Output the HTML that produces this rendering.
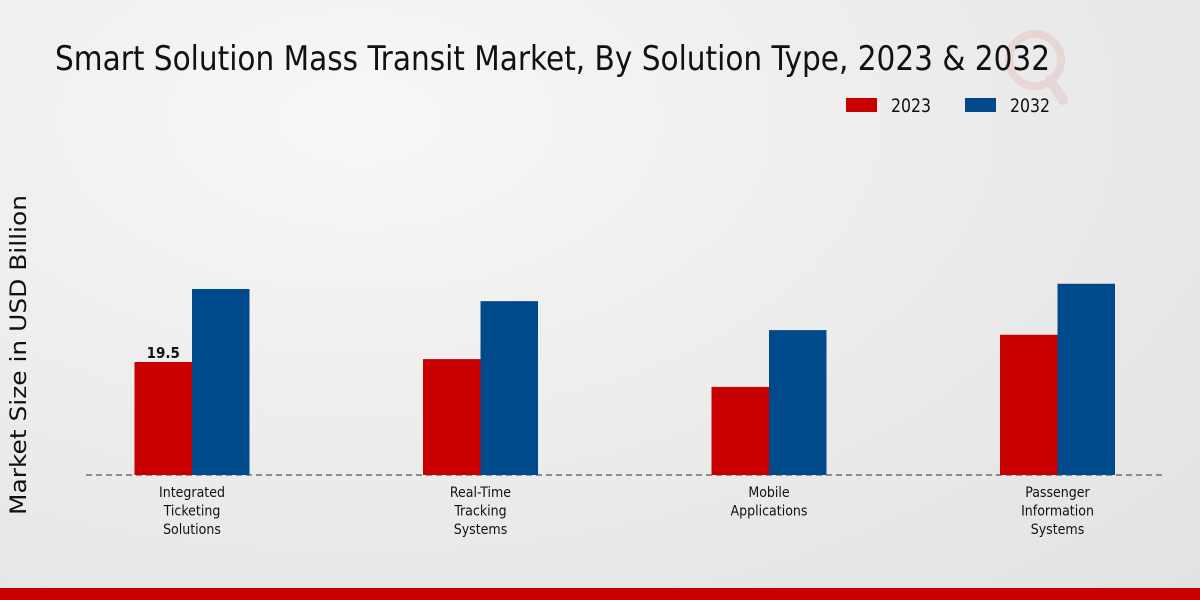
<!DOCTYPE html>
<html><head><meta charset="utf-8"><style>
html,body{margin:0;padding:0;width:1200px;height:600px;overflow:hidden}
body{background:radial-gradient(ellipse at 30% 20%,#f7f7f7 0%,#ececec 50%,#e2e2e2 100%);font-family:"DejaVu Sans Condensed","Liberation Sans",sans-serif}
</style></head><body>
<svg width="1200" height="600" xmlns="http://www.w3.org/2000/svg">
<text x="55" y="70" font-size="34" fill="#111" textLength="995" lengthAdjust="spacingAndGlyphs">Smart Solution Mass Transit Market, By Solution Type, 2023 &amp; 2032</text>
<g opacity="0.08"><circle cx="1035" cy="60" r="26" fill="none" stroke="#c00" stroke-width="8"/><line x1="1050" y1="80" x2="1063" y2="100" stroke="#c00" stroke-width="10" stroke-linecap="round"/></g>
<g>
<rect x="846" y="98" width="31" height="14" fill="#c80000"/>
<text x="891" y="112" font-size="19" fill="#111" textLength="40" lengthAdjust="spacingAndGlyphs">2023</text>
<rect x="965" y="98" width="31" height="14" fill="#004a8c"/>
<text x="1010" y="112" font-size="19" fill="#111" textLength="40" lengthAdjust="spacingAndGlyphs">2032</text>
</g>
<text transform="translate(26,355) rotate(-90)" text-anchor="middle" font-size="22" font-family="DejaVu Sans, sans-serif" fill="#111" textLength="320" lengthAdjust="spacingAndGlyphs">Market Size in USD Billion</text>
<line x1="86" y1="475" x2="1163" y2="475" stroke="#333" stroke-dasharray="6,4" stroke-width="1"/>
<g id="bars"></g>
<g id="labels"></g>
<rect x="0" y="588" width="1200" height="12" fill="#c80000"/>
</svg>
<script>
const categories=[["Integrated","Ticketing","Solutions"],["Real-Time","Tracking","Systems"],["Mobile","Applications"],["Passenger","Information","Systems"]];
const values2023=[19.5,20.0,15.2,24.2];
const values2032=[32.1,30.0,25.0,33.0];
const shownLabels=["19.5",null,null,null];
const NS="http://www.w3.org/2000/svg";
const base=475,scale=5.795,first=192,step=288.5,bw=57.5;
const y=v=>base-v*scale;
const bars=document.getElementById('bars'),labels=document.getElementById('labels');
function mk(t,a){const e=document.createElementNS(NS,t);for(const k in a)e.setAttribute(k,a[k]);return e;}
categories.forEach((c,i)=>{
  const cx=first+i*step;
  const r=mk('rect',{x:cx-bw,y:y(values2023[i]),width:bw,height:values2023[i]*scale,fill:'#c80000'});
  
  
  bars.appendChild(r);
  const b=mk('rect',{x:cx,y:y(values2032[i]),width:bw,height:values2032[i]*scale,fill:'#004a8c'});
  
  
  bars.appendChild(b);
  if(shownLabels[i]){
    const t=mk('text',{x:cx-bw/2,y:y(values2023[i])-4,'text-anchor':'middle','font-size':'15','font-weight':'bold',fill:'#111'});
    t.textContent=shownLabels[i];
    
    
    labels.appendChild(t);
  }
  c.forEach((line,j)=>{
    const t=mk('text',{x:cx,y:497+j*18.5,'text-anchor':'middle','font-size':'14',fill:'#111'});
    t.textContent=line;
    
    
    labels.appendChild(t);
  });
});
</script>
</body></html>
